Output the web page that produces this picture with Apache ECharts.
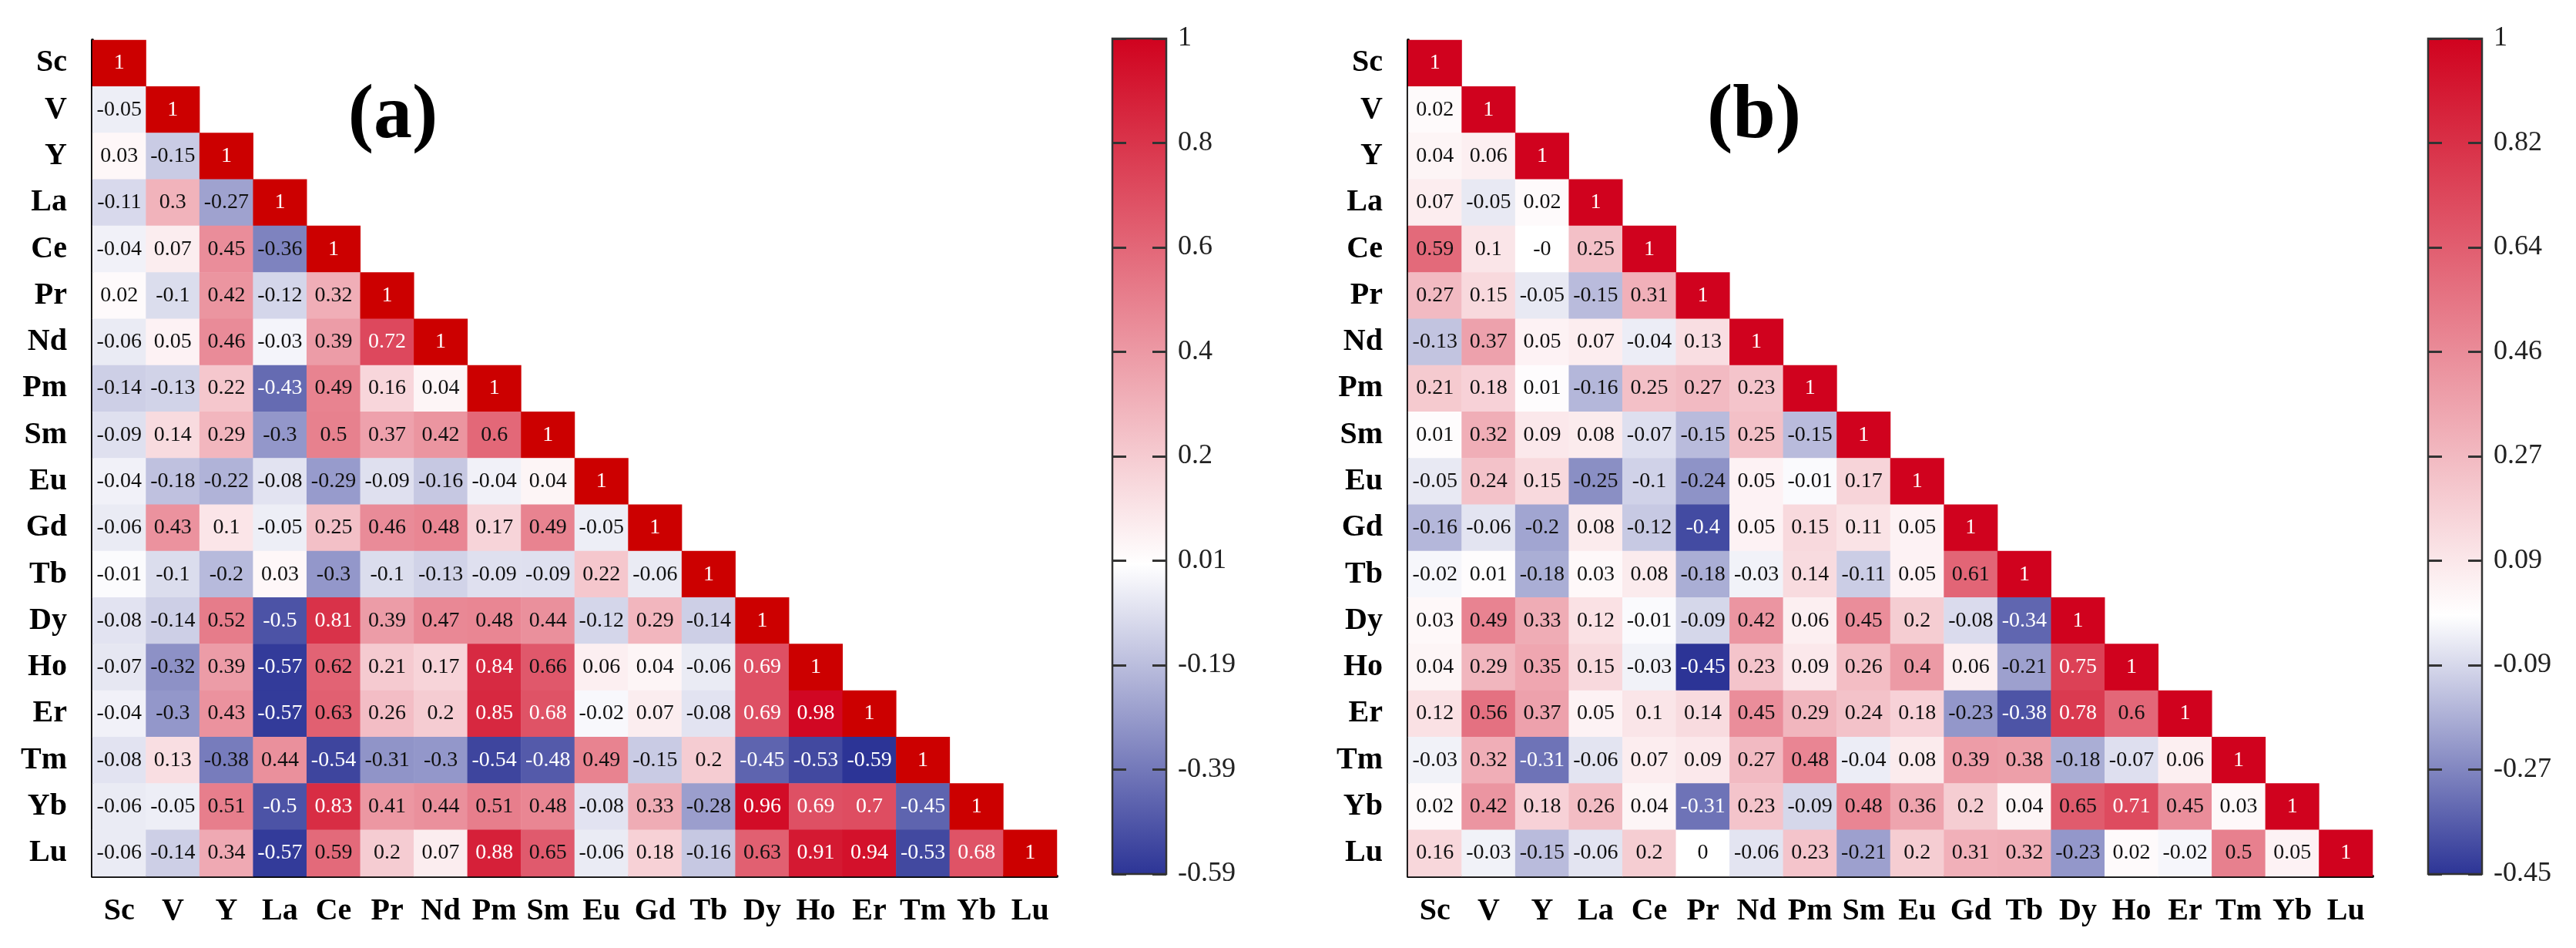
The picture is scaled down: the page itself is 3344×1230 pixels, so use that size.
<!DOCTYPE html>
<html>
<head>
<meta charset="utf-8">
<script src="https://cdn.jsdelivr.net/npm/echarts@6/dist/echarts.min.js"></script>
<style>
  html, body { margin: 0; padding: 0; background: #fff; }
  #main { width: 3344px; height: 1230px; }
</style>
</head>
<body>
<div id="main"></div>
<script>
const elements = ['Sc', 'V', 'Y', 'La', 'Ce', 'Pr', 'Nd', 'Pm', 'Sm', 'Eu', 'Gd', 'Tb', 'Dy', 'Ho', 'Er', 'Tm', 'Yb', 'Lu'];

// lower triangle, row by row (row i has i+1 values)
const corrA = [
  [1],
  [-0.05, 1],
  [0.03, -0.15, 1],
  [-0.11, 0.3, -0.27, 1],
  [-0.04, 0.07, 0.45, -0.36, 1],
  [0.02, -0.1, 0.42, -0.12, 0.32, 1],
  [-0.06, 0.05, 0.46, -0.03, 0.39, 0.72, 1],
  [-0.14, -0.13, 0.22, -0.43, 0.49, 0.16, 0.04, 1],
  [-0.09, 0.14, 0.29, -0.3, 0.5, 0.37, 0.42, 0.6, 1],
  [-0.04, -0.18, -0.22, -0.08, -0.29, -0.09, -0.16, -0.04, 0.04, 1],
  [-0.06, 0.43, 0.1, -0.05, 0.25, 0.46, 0.48, 0.17, 0.49, -0.05, 1],
  [-0.01, -0.1, -0.2, 0.03, -0.3, -0.1, -0.13, -0.09, -0.09, 0.22, -0.06, 1],
  [-0.08, -0.14, 0.52, -0.5, 0.81, 0.39, 0.47, 0.48, 0.44, -0.12, 0.29, -0.14, 1],
  [-0.07, -0.32, 0.39, -0.57, 0.62, 0.21, 0.17, 0.84, 0.66, 0.06, 0.04, -0.06, 0.69, 1],
  [-0.04, -0.3, 0.43, -0.57, 0.63, 0.26, 0.2, 0.85, 0.68, -0.02, 0.07, -0.08, 0.69, 0.98, 1],
  [-0.08, 0.13, -0.38, 0.44, -0.54, -0.31, -0.3, -0.54, -0.48, 0.49, -0.15, 0.2, -0.45, -0.53, -0.59, 1],
  [-0.06, -0.05, 0.51, -0.5, 0.83, 0.41, 0.44, 0.51, 0.48, -0.08, 0.33, -0.28, 0.96, 0.69, 0.7, -0.45, 1],
  [-0.06, -0.14, 0.34, -0.57, 0.59, 0.2, 0.07, 0.88, 0.65, -0.06, 0.18, -0.16, 0.63, 0.91, 0.94, -0.53, 0.68, 1]
];

const corrB = [
  [1],
  [0.02, 1],
  [0.04, 0.06, 1],
  [0.07, -0.05, 0.02, 1],
  [0.59, 0.1, -0, 0.25, 1],
  [0.27, 0.15, -0.05, -0.15, 0.31, 1],
  [-0.13, 0.37, 0.05, 0.07, -0.04, 0.13, 1],
  [0.21, 0.18, 0.01, -0.16, 0.25, 0.27, 0.23, 1],
  [0.01, 0.32, 0.09, 0.08, -0.07, -0.15, 0.25, -0.15, 1],
  [-0.05, 0.24, 0.15, -0.25, -0.1, -0.24, 0.05, -0.01, 0.17, 1],
  [-0.16, -0.06, -0.2, 0.08, -0.12, -0.4, 0.05, 0.15, 0.11, 0.05, 1],
  [-0.02, 0.01, -0.18, 0.03, 0.08, -0.18, -0.03, 0.14, -0.11, 0.05, 0.61, 1],
  [0.03, 0.49, 0.33, 0.12, -0.01, -0.09, 0.42, 0.06, 0.45, 0.2, -0.08, -0.34, 1],
  [0.04, 0.29, 0.35, 0.15, -0.03, -0.45, 0.23, 0.09, 0.26, 0.4, 0.06, -0.21, 0.75, 1],
  [0.12, 0.56, 0.37, 0.05, 0.1, 0.14, 0.45, 0.29, 0.24, 0.18, -0.23, -0.38, 0.78, 0.6, 1],
  [-0.03, 0.32, -0.31, -0.06, 0.07, 0.09, 0.27, 0.48, -0.04, 0.08, 0.39, 0.38, -0.18, -0.07, 0.06, 1],
  [0.02, 0.42, 0.18, 0.26, 0.04, -0.31, 0.23, -0.09, 0.48, 0.36, 0.2, 0.04, 0.65, 0.71, 0.45, 0.03, 1],
  [0.16, -0.03, -0.15, -0.06, 0.2, 0, -0.06, 0.23, -0.21, 0.2, 0.31, 0.32, -0.23, 0.02, -0.02, 0.5, 0.05, 1]
];

// colour bar tick labels, bottom to top
const ticksA = [-0.59, -0.39, -0.19, 0.01, 0.2, 0.4, 0.6, 0.8, 1];
const ticksB = [-0.45, -0.27, -0.09, 0.09, 0.27, 0.46, 0.64, 0.82, 1];

const FONT = '"Liberation Serif", "Times New Roman", serif';
const RED = [208, 2, 30];
const WHITE = [255, 255, 255];
const BLUE = [44, 52, 150];

function mix(c1, c2, t) {
  return c1.map((c, i) => Math.round(c + (c2[i] - c) * t));
}
// blue at lo, white at 0, red at hi
function cmap(v, lo, hi) {
  if (v >= 0) return mix(WHITE, RED, Math.min(1, v / hi));
  return mix(WHITE, BLUE, Math.min(1, v / lo));
}
function rgb(c) {
  return 'rgb(' + c.join(',') + ')';
}
function rampColors(lo, hi) {
  const out = [];
  for (let i = 0; i <= 100; i++) out.push(rgb(cmap(lo + (hi - lo) * i / 100, lo, hi)));
  return out;
}
function fmt(v) {
  return (v === 0 && 1 / v < 0) ? '-0' : String(v);
}

function buildCells(rows, lo, hi, diagWhite) {
  const cells = [];
  rows.forEach((row, r) => {
    row.forEach((v, c) => {
      const col = cmap(v, lo, hi);
      const lum = 0.299 * col[0] + 0.587 * col[1] + 0.114 * col[2];
      const white = lum < 128.5 || (diagWhite && r === c);
      cells.push({ value: [c, r, v], label: { color: white ? '#fff' : '#111' } });
    });
  });
  return cells;
}

const loA = ticksA[0], hiA = ticksA[ticksA.length - 1];
const loB = ticksB[0], hiB = ticksB[ticksB.length - 1];

const myChart = echarts.init(document.getElementById('main'), null, { renderer: 'canvas' });

const catX = (grid) => ({
  type: 'category',
  gridIndex: grid,
  data: elements,
  axisLine: { lineStyle: { color: '#000', width: 4 } },
  axisTick: { alignWithLabel: true, interval: 0, length: 18, lineStyle: { color: '#000', width: 3 } },
  axisLabel: { interval: 0, fontFamily: FONT, fontWeight: 'bold', fontSize: 40, color: '#000', margin: 26 },
  splitLine: { show: false }
});
const catY = (grid) => ({
  type: 'category',
  gridIndex: grid,
  data: elements,
  inverse: true,
  axisLine: { lineStyle: { color: '#000', width: 4 } },
  axisTick: { alignWithLabel: true, interval: 0, length: 18, lineStyle: { color: '#000', width: 3 } },
  axisLabel: { interval: 0, fontFamily: FONT, fontWeight: 'bold', fontSize: 40, color: '#000', margin: 33 },
  splitLine: { show: false }
});
const barX = (grid) => ({
  type: 'value', gridIndex: grid, min: 0, max: 1, show: false
});
const barY = (grid, pos, ticks) => ({
  type: 'value',
  gridIndex: grid,
  position: pos,
  min: 0,
  max: ticks.length - 1,
  interval: 1,
  z: 5,
  axisLine: { show: false },
  axisTick: { show: true, inside: true, length: 18, lineStyle: { color: '#333', width: 3 } },
  axisLabel: {
    show: pos === 'right',
    margin: 15,
    fontFamily: FONT,
    fontSize: 36,
    color: '#222',
    formatter: (v) => String(ticks[v])
  },
  splitLine: { show: false }
});

function barSeries(xi, yi, lo, hi) {
  const whiteAt = hi / (hi - lo);
  return {
    type: 'custom',
    xAxisIndex: xi,
    yAxisIndex: yi,
    z: 1,
    silent: true,
    data: [[0, 0]],
    renderItem: (params, api) => {
      const p0 = api.coord([0, api.value(1) + 8]);
      const p1 = api.coord([1, api.value(1)]);
      return {
        type: 'rect',
        shape: { x: p0[0], y: p0[1], width: p1[0] - p0[0], height: p1[1] - p0[1] },
        style: {
          fill: new echarts.graphic.LinearGradient(0, 0, 0, 1, [
            { offset: 0, color: rgb(RED) },
            { offset: whiteAt, color: rgb(WHITE) },
            { offset: 1, color: rgb(BLUE) }
          ]),
          stroke: '#333',
          lineWidth: 2.5
        }
      };
    }
  };
}

const cellLabel = { show: true, fontFamily: FONT, fontSize: 28, formatter: (p) => fmt(p.value[2]) };

myChart.setOption({
  backgroundColor: '#fff',
  animation: false,
  grid: [
    { left: 120, top: 52, width: 1252, height: 1085 },
    { left: 1828, top: 52, width: 1252, height: 1085 },
    { left: 1444, top: 50, width: 70, height: 1084 },
    { left: 3152, top: 50, width: 70, height: 1084 }
  ],
  xAxis: [catX(0), catX(1), barX(2), barX(3)],
  yAxis: [
    catY(0), catY(1),
    barY(2, 'left', ticksA), barY(2, 'right', ticksA),
    barY(3, 'left', ticksB), barY(3, 'right', ticksB)
  ],
  visualMap: [
    {
      type: 'continuous', show: false, seriesIndex: 0, dimension: 2,
      min: loA, max: hiA, range: [loA, 0.995],
      inRange: { color: rampColors(loA, hiA) },
      outOfRange: { color: '#cc0000' }
    },
    {
      type: 'continuous', show: false, seriesIndex: 1, dimension: 2,
      min: loB, max: hiB,
      inRange: { color: rampColors(loB, hiB) }
    }
  ],
  graphic: [
    { type: 'text', style: { text: '(a)', x: 510, y: 152, align: 'center', verticalAlign: 'middle', font: 'bold 100px ' + FONT, fill: '#000' } },
    { type: 'text', style: { text: '(b)', x: 2277, y: 152, align: 'center', verticalAlign: 'middle', font: 'bold 100px ' + FONT, fill: '#000' } }
  ],
  series: [
    { type: 'heatmap', xAxisIndex: 0, yAxisIndex: 0, data: buildCells(corrA, loA, hiA, true), label: cellLabel },
    { type: 'heatmap', xAxisIndex: 1, yAxisIndex: 1, data: buildCells(corrB, loB, hiB, false), label: cellLabel },
    barSeries(2, 2, loA, hiA),
    barSeries(3, 4, loB, hiB)
  ]
});
</script>
</body>
</html>
